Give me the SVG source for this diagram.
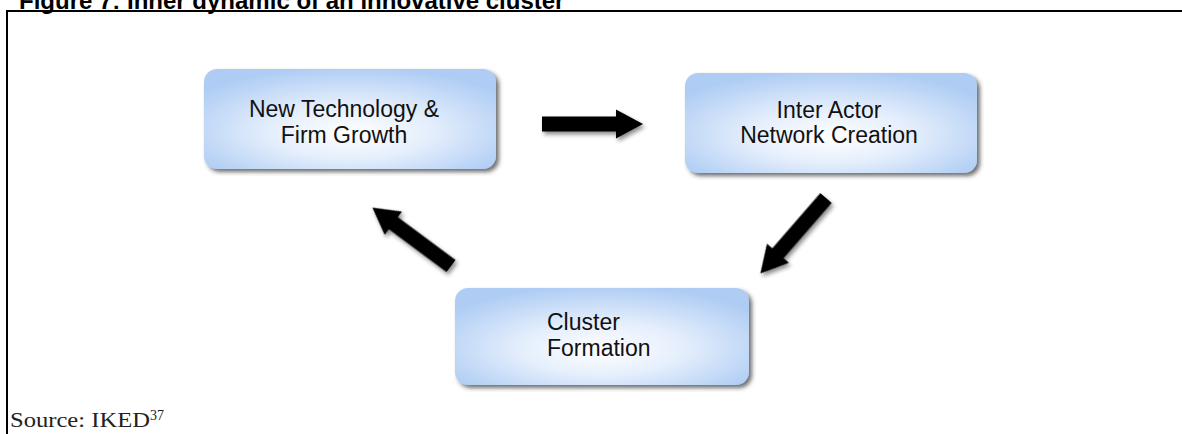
<svg xmlns="http://www.w3.org/2000/svg" width="1182" height="434" viewBox="0 0 1182 434">
<style>
.lbl{font-family:"Liberation Sans",Arial,sans-serif;font-size:23px;fill:#111}
.box{fill:url(#bg);filter:url(#sh)}
.title{font-family:"Liberation Sans",Arial,sans-serif;font-size:24px;font-weight:bold;fill:#000}
.src{font-family:"Liberation Serif","Times New Roman",serif;font-size:21px;fill:#222}
</style>
<defs>
<radialGradient id="bg" cx="0.5" cy="0.6" r="0.62" fx="0.5" fy="0.65">
<stop offset="0" stop-color="#ffffff"/>
<stop offset="0.45" stop-color="#e4eefc"/>
<stop offset="1" stop-color="#afcdf4"/>
</radialGradient>
<filter id="sh" x="-10%" y="-10%" width="125%" height="130%">
<feDropShadow dx="3" dy="3" stdDeviation="2" flood-color="#333" flood-opacity="0.7"/>
</filter>
<filter id="ash" x="-20%" y="-40%" width="150%" height="180%">
<feDropShadow dx="2" dy="3" stdDeviation="2" flood-color="#000" flood-opacity="0.45"/>
</filter>
<path id="arr" d="M0,-7.5 H74 V-14.5 L101,0 L74,14.5 V7.5 H0 Z" fill="#000"/>
</defs>
<rect width="1182" height="434" fill="#fff"/>
<text class="title" x="19" y="9">Figure 7: Inner dynamic of an innovative cluster</text>
<path d="M7,434 V11 H1182" fill="none" stroke="#000" stroke-width="2"/>
<g id="node-tech">
<rect class="box" x="204" y="69" width="292" height="100" rx="13"/>
<text class="lbl" x="344" y="117" text-anchor="middle">New Technology &amp;</text>
<text class="lbl" x="344" y="143" text-anchor="middle">Firm Growth</text>
</g>
<g id="node-network">
<rect class="box" x="685" y="73" width="292" height="100" rx="13"/>
<text class="lbl" x="829" y="118" text-anchor="middle">Inter Actor</text>
<text class="lbl" x="829" y="143" text-anchor="middle">Network Creation</text>
</g>
<g id="node-cluster">
<rect class="box" x="455" y="288" width="294" height="97" rx="13"/>
<text class="lbl" x="547" y="330">Cluster</text>
<text class="lbl" x="547" y="356">Formation</text>
</g>
<g id="connectors" filter="url(#ash)">
<use href="#arr" transform="translate(542,124)"/>
<use href="#arr" transform="translate(826,198) rotate(131) scale(0.99,1)"/>
<use href="#arr" transform="translate(451,266) rotate(216.6) scale(0.97,1)"/>
</g>
<text class="src" x="10" y="427"><tspan textLength="140" lengthAdjust="spacingAndGlyphs">Source: IKED</tspan><tspan font-size="14" dy="-7">37</tspan></text>
</svg>
